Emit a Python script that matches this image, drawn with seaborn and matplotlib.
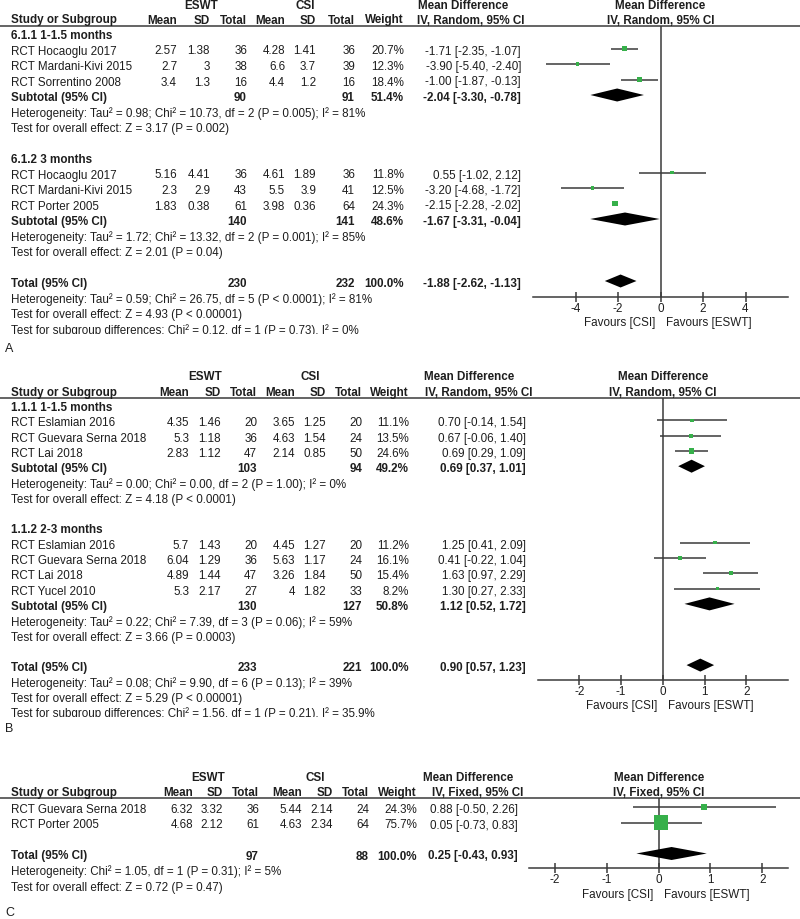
import numpy as np
import pandas as pd
import matplotlib
matplotlib.use("Agg")
import matplotlib.pyplot as plt
from matplotlib.patches import Rectangle
import seaborn as sns

# ---------------- Panel A ----------------
a_groups = ["6.1.1 1-1.5 months", "6.1.2 3 months"]
a_study = ["RCT Hocaoglu 2017", "RCT Mardani-Kivi 2015", "RCT Sorrentino 2008",
           "RCT Hocaoglu 2017", "RCT Mardani-Kivi 2015", "RCT Porter 2005"]
a_sub = [0, 0, 0, 1, 1, 1]
a_e_mean = [2.57, 2.7, 3.4, 5.16, 2.3, 1.83]
a_e_sd = [1.38, 3, 1.3, 4.41, 2.9, 0.38]
a_e_n = [36, 38, 16, 36, 43, 61]
a_c_mean = [4.28, 6.6, 4.4, 4.61, 5.5, 3.98]
a_c_sd = [1.41, 3.7, 1.2, 1.89, 3.9, 0.36]
a_c_n = [36, 39, 16, 36, 41, 64]
a_weight = [20.7, 12.3, 18.4, 11.8, 12.5, 24.3]
a_md = [-1.71, -3.90, -1.00, 0.55, -3.20, -2.15]
a_lo = [-2.35, -5.40, -1.87, -1.02, -4.68, -2.28]
a_hi = [-1.07, -2.40, -0.13, 2.12, -1.72, -2.02]
a_sub_e_n = [90, 140]
a_sub_c_n = [91, 141]
a_sub_w = [51.4, 48.6]
a_sub_md = [-2.04, -1.67]
a_sub_lo = [-3.30, -3.31]
a_sub_hi = [-0.78, -0.04]
a_sub_het = ["Heterogeneity: Tau² = 0.98; Chi² = 10.73, df = 2 (P = 0.005); I² = 81%",
             "Heterogeneity: Tau² = 1.72; Chi² = 13.32, df = 2 (P = 0.001); I² = 85%"]
a_sub_z = ["Test for overall effect: Z = 3.17 (P = 0.002)",
           "Test for overall effect: Z = 2.01 (P = 0.04)"]
a_tot_e_n, a_tot_c_n, a_tot_w = 230, 232, 100.0
a_tot_md, a_tot_lo, a_tot_hi = -1.88, -2.62, -1.13
a_notes = ["Heterogeneity: Tau² = 0.59; Chi² = 26.75, df = 5 (P < 0.0001); I² = 81%",
           "Test for overall effect: Z = 4.93 (P < 0.00001)",
           "Test for subgroup differences: Chi² = 0.12, df = 1 (P = 0.73), I² = 0%"]
a_ticks = [-4, -2, 0, 2, 4]

# ---------------- Panel B ----------------
b_groups = ["1.1.1 1-1.5 months", "1.1.2 2-3 months"]
b_study = ["RCT Eslamian 2016", "RCT Guevara Serna 2018", "RCT Lai 2018",
           "RCT Eslamian 2016", "RCT Guevara Serna 2018", "RCT Lai 2018", "RCT Yucel 2010"]
b_sub = [0, 0, 0, 1, 1, 1, 1]
b_e_mean = [4.35, 5.3, 2.83, 5.7, 6.04, 4.89, 5.3]
b_e_sd = [1.46, 1.18, 1.12, 1.43, 1.29, 1.44, 2.17]
b_e_n = [20, 36, 47, 20, 36, 47, 27]
b_c_mean = [3.65, 4.63, 2.14, 4.45, 5.63, 3.26, 4]
b_c_sd = [1.25, 1.54, 0.85, 1.27, 1.17, 1.84, 1.82]
b_c_n = [20, 24, 50, 20, 24, 50, 33]
b_weight = [11.1, 13.5, 24.6, 11.2, 16.1, 15.4, 8.2]
b_md = [0.70, 0.67, 0.69, 1.25, 0.41, 1.63, 1.30]
b_lo = [-0.14, -0.06, 0.29, 0.41, -0.22, 0.97, 0.27]
b_hi = [1.54, 1.40, 1.09, 2.09, 1.04, 2.29, 2.33]
b_sub_e_n = [103, 130]
b_sub_c_n = [94, 127]
b_sub_w = [49.2, 50.8]
b_sub_md = [0.69, 1.12]
b_sub_lo = [0.37, 0.52]
b_sub_hi = [1.01, 1.72]
b_sub_het = ["Heterogeneity: Tau² = 0.00; Chi² = 0.00, df = 2 (P = 1.00); I² = 0%",
             "Heterogeneity: Tau² = 0.22; Chi² = 7.39, df = 3 (P = 0.06); I² = 59%"]
b_sub_z = ["Test for overall effect: Z = 4.18 (P < 0.0001)",
           "Test for overall effect: Z = 3.66 (P = 0.0003)"]
b_tot_e_n, b_tot_c_n, b_tot_w = 233, 221, 100.0
b_tot_md, b_tot_lo, b_tot_hi = 0.90, 0.57, 1.23
b_notes = ["Heterogeneity: Tau² = 0.08; Chi² = 9.90, df = 6 (P = 0.13); I² = 39%",
           "Test for overall effect: Z = 5.29 (P < 0.00001)",
           "Test for subgroup differences: Chi² = 1.56, df = 1 (P = 0.21), I² = 35.9%"]
b_ticks = [-2, -1, 0, 1, 2]

# ---------------- Panel C ----------------
c_study = ["RCT Guevara Serna 2018", "RCT Porter 2005"]
c_e_mean = [6.32, 4.68]
c_e_sd = [3.32, 2.12]
c_e_n = [36, 61]
c_c_mean = [5.44, 4.63]
c_c_sd = [2.14, 2.34]
c_c_n = [24, 64]
c_weight = [24.3, 75.7]
c_md = [0.88, 0.05]
c_lo = [-0.50, -0.73]
c_hi = [2.26, 0.83]
c_tot_e_n, c_tot_c_n, c_tot_w = 97, 88, 100.0
c_tot_md, c_tot_lo, c_tot_hi = 0.25, -0.43, 0.93
c_notes = ["Heterogeneity: Chi² = 1.05, df = 1 (P = 0.31); I² = 5%",
           "Test for overall effect: Z = 0.72 (P = 0.47)"]
c_ticks = [-2, -1, 0, 1, 2]

sns.set_style("white")
plt.rcParams["font.family"] = ["Liberation Sans", "DejaVu Sans"]
plt.rcParams["axes.unicode_minus"] = False

INK = "#1e1e1e"
LINE = "#3a3a3a"
GREEN = "#36b04a"
FS = 8.4
W, H = 800, 919


def make_rows(studies, groups, subs, total, notes):
    """Flatten a panel into display rows: (kind, payload)."""
    rows = []
    if groups is None:
        rows += [("study", r) for _, r in studies.iterrows()]
        rows.append(("blank", None))
    else:
        for g, name in enumerate(groups):
            rows.append(("group", name))
            rows += [("study", r) for _, r in studies[studies["sub"] == g].iterrows()]
            s = subs.iloc[g]
            rows.append(("subtotal", s))
            rows.append(("note", s["het"]))
            rows.append(("note", s["z"]))
            rows.append(("blank", None))
    rows.append(("total", total))
    rows += [("note", n) for n in notes]
    return rows


def md_text(md, lo, hi):
    return f"{md:.2f} [{lo:.2f}, {hi:.2f}]"


def draw_panel(fig, over, rows, lay):
    txt = dict(fontsize=FS, color=INK, va="center")
    bold = dict(txt, fontweight="bold")
    hy, sy, ly = lay["head_y"], lay["sh_y"], lay["line_y"]

    # header block
    over.text(lay["eswt"], hy, "ESWT", ha="center", **bold)
    over.text(lay["csi"], hy, "CSI", ha="center", **bold)
    over.text(11, sy, "Study or Subgroup", ha="left", **bold)
    cols = ["e_mean", "e_sd", "e_n", "c_mean", "c_sd", "c_n", "w"]
    for key, lab in zip(cols, ["Mean", "SD", "Total", "Mean", "SD", "Total", "Weight"]):
        over.text(lay[key], sy, lab, ha="right", **bold)
    over.text(lay["md_l1"], hy, "Mean Difference", ha="left", **bold)
    over.text(lay["md_l2"], sy, lay["method"], ha="left", **bold)
    lim = lay["lim"]
    px1 = 788
    px0 = px1 - 2 * lim * lay["unit"]
    pc = (px0 + px1) / 2
    over.text(pc, hy, "Mean Difference", ha="center", **bold)
    over.text(pc, sy, lay["method"], ha="center", **bold)
    over.plot([0, W], [ly, ly], color=LINE, lw=1.1, solid_capstyle="butt")

    ys = lay["row0"] + lay["step"] * np.arange(len(rows))
    studies, diamonds = [], []
    for (kind, p), y in zip(rows, ys):
        if kind == "group":
            over.text(11, y, p, ha="left", **bold)
        elif kind == "study":
            over.text(11, y, p["study"], ha="left", **txt)
            for key in ["e_mean", "e_sd", "c_mean", "c_sd"]:
                over.text(lay[key], y, f"{p[key]:g}", ha="right", **txt)
            for key in ["e_n", "c_n"]:
                over.text(lay[key], y, f"{int(p[key])}", ha="right", **txt)
            over.text(lay["w"], y, f"{p['w']:.1f}%", ha="right", **txt)
            over.text(lay["md_r"], y, md_text(p["md"], p["lo"], p["hi"]), ha="right", **txt)
            studies.append(dict(md=p["md"], lo=p["lo"], hi=p["hi"], w=p["w"], y=y - 3))
        elif kind in ("subtotal", "total"):
            lab = "Subtotal (95% CI)" if kind == "subtotal" else "Total (95% CI)"
            over.text(11, y, lab, ha="left", **bold)
            over.text(lay["e_n"], y, f"{int(p['e_n'])}", ha="right", **bold)
            over.text(lay["c_n"], y, f"{int(p['c_n'])}", ha="right", **bold)
            over.text(lay["w"], y, f"{p['w']:.1f}%", ha="right", **bold)
            over.text(lay["md_r"], y, md_text(p["md"], p["lo"], p["hi"]), ha="right", **bold)
            diamonds.append(dict(md=p["md"], lo=p["lo"], hi=p["hi"], y=y - 3))
        elif kind == "note":
            t = over.text(11, y, p, ha="left", **txt)
            if lay.get("clip") is not None:
                # the last footnote is cut off at the panel's lower edge
                t.set_clip_path(Rectangle((0, 0), W, lay["clip"], transform=over.transData))
                t.set_clip_on(True)

    # forest plot axes, y measured in figure pixels
    ay = lay["axis_y"]
    ax = fig.add_axes([px0 / W, 1 - ay / H, (px1 - px0) / W, (ay - ly) / H])
    ax.patch.set_alpha(0)
    sdf = pd.DataFrame(studies)
    ax.hlines(sdf["y"], sdf["lo"], sdf["hi"], color=LINE, lw=1.1, zorder=2)
    side = (1.6 + 0.17 * sdf["w"]) * 0.72
    sns.scatterplot(data=sdf, x="md", y="y", marker="s", s=side ** 2, color=GREEN,
                    linewidth=0, legend=False, ax=ax, zorder=3)
    for d in diamonds:
        h = 6.5
        ax.fill([d["lo"], d["md"], d["hi"], d["md"]], [d["y"], d["y"] - h, d["y"], d["y"] + h],
                color="black", lw=0, zorder=3)
    ax.axvline(0, color=LINE, lw=1.1, zorder=1)
    ax.set_xlim(-lim, lim)
    ax.set_ylim(ay, ly)
    ax.set_xlabel("")
    ax.set_ylabel("")
    ax.set_yticks([])
    ax.set_xticks(lay["ticks"])
    ax.set_xticklabels([f"{t:d}" for t in lay["ticks"]])
    for s in ["top", "left", "right"]:
        ax.spines[s].set_visible(False)
    ax.spines["bottom"].set_color(LINE)
    ax.spines["bottom"].set_linewidth(1.1)
    ax.tick_params(axis="x", bottom=True, direction="inout", length=7, width=1.1,
                   color=LINE, labelsize=FS, labelcolor=INK, pad=1.0)

    zx = px0 + lim * lay["unit"]
    over.text(zx - 5, lay["fav_y"], "Favours [CSI]", ha="right", **txt)
    over.text(zx + 5, lay["fav_y"], "Favours [ESWT]", ha="left", **txt)
    over.text(5, lay["label_y"], lay["label"], ha="left", fontsize=FS + 0.6, color=INK, va="center")


def study_frame(study, sub, e_mean, e_sd, e_n, c_mean, c_sd, c_n, w, md, lo, hi):
    return pd.DataFrame(dict(study=study, sub=sub, e_mean=e_mean, e_sd=e_sd, e_n=e_n,
                             c_mean=c_mean, c_sd=c_sd, c_n=c_n, w=w, md=md, lo=lo, hi=hi))


def sub_frame(e_n, c_n, w, md, lo, hi, het, z):
    return pd.DataFrame(dict(e_n=e_n, c_n=c_n, w=w, md=md, lo=lo, hi=hi, het=het, z=z))


fig = plt.figure(figsize=(W / 100, H / 100), dpi=100)
over = fig.add_axes([0, 0, 1, 1])
over.set_xlim(0, W)
over.set_ylim(H, 0)
over.axis("off")

rows_a = make_rows(
    study_frame(a_study, a_sub, a_e_mean, a_e_sd, a_e_n, a_c_mean, a_c_sd, a_c_n,
                a_weight, a_md, a_lo, a_hi),
    a_groups,
    sub_frame(a_sub_e_n, a_sub_c_n, a_sub_w, a_sub_md, a_sub_lo, a_sub_hi, a_sub_het, a_sub_z),
    dict(e_n=a_tot_e_n, c_n=a_tot_c_n, w=a_tot_w, md=a_tot_md, lo=a_tot_lo, hi=a_tot_hi),
    a_notes)
draw_panel(fig, over, rows_a, dict(
    head_y=6, sh_y=20.5, line_y=26, row0=36, step=15.5, eswt=201, csi=305,
    e_mean=177, e_sd=210, e_n=247, c_mean=285, c_sd=316, c_n=355, w=404,
    md_r=521, md_l1=418, md_l2=417, method="IV, Random, 95% CI",
    lim=6, unit=21.25, ticks=a_ticks, axis_y=297, fav_y=323, clip=334,
    label="A", label_y=349))

rows_b = make_rows(
    study_frame(b_study, b_sub, b_e_mean, b_e_sd, b_e_n, b_c_mean, b_c_sd, b_c_n,
                b_weight, b_md, b_lo, b_hi),
    b_groups,
    sub_frame(b_sub_e_n, b_sub_c_n, b_sub_w, b_sub_md, b_sub_lo, b_sub_hi, b_sub_het, b_sub_z),
    dict(e_n=b_tot_e_n, c_n=b_tot_c_n, w=b_tot_w, md=b_tot_md, lo=b_tot_lo, hi=b_tot_hi),
    b_notes)
draw_panel(fig, over, rows_b, dict(
    head_y=377, sh_y=393, line_y=398, row0=408, step=15.3, eswt=205, csi=310,
    e_mean=189, e_sd=221, e_n=257, c_mean=295, c_sd=326, c_n=362, w=409,
    md_r=526, md_l1=424, md_l2=425, method="IV, Random, 95% CI",
    lim=3, unit=41.75, ticks=b_ticks, axis_y=680, fav_y=706, clip=717,
    label="B", label_y=729))

rows_c = make_rows(
    study_frame(c_study, [0, 0], c_e_mean, c_e_sd, c_e_n, c_c_mean, c_c_sd, c_c_n,
                c_weight, c_md, c_lo, c_hi),
    None, None,
    dict(e_n=c_tot_e_n, c_n=c_tot_c_n, w=c_tot_w, md=c_tot_md, lo=c_tot_lo, hi=c_tot_hi),
    c_notes)
draw_panel(fig, over, rows_c, dict(
    head_y=778, sh_y=793, line_y=798, row0=810, step=15.5, eswt=208, csi=315,
    e_mean=193, e_sd=223, e_n=259, c_mean=302, c_sd=333, c_n=369, w=417,
    md_r=518, md_l1=423, md_l2=432, method="IV, Fixed, 95% CI",
    lim=2.5, unit=51.75, ticks=c_ticks, axis_y=868, fav_y=895, clip=None,
    label="C", label_y=913))

fig.savefig("out.png", dpi=100)
